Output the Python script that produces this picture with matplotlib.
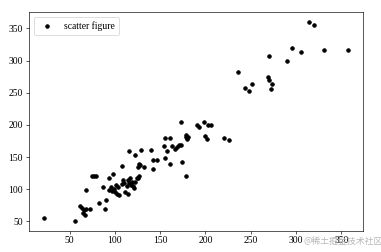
import matplotlib
matplotlib.use("Agg")
import matplotlib.pyplot as plt
import numpy as np

x = [21.6, 56, 62, 64, 65, 66, 67, 68, 68, 72, 75, 77, 79, 82, 87, 89, 90, 93,
     94, 96, 97, 98, 99, 100, 101, 102, 103, 104, 108, 108, 109, 110, 111, 113,
     114, 115, 115.5, 116, 117, 118, 119, 120, 121, 122, 122, 124, 126, 126,
     127, 127, 128, 129, 132, 140, 142, 142, 146.5, 154, 155, 155, 157.5,
     160.5, 161, 163, 166, 168.6, 171, 173, 173.5, 174, 178, 178, 179, 180,
     181, 191, 192.5, 198.4, 200, 201.7, 203, 206.5, 220.5, 226, 236, 244,
     248, 251.5, 269, 270, 270, 272, 273.6, 290, 296, 305, 314.4, 320, 331,
     357.5]
y = [56, 51, 74, 71, 63, 67, 60, 69, 99, 70, 121, 121, 121, 79, 103, 70, 84,
     118, 99, 104, 98, 123, 101, 96, 106, 93, 103, 91, 136, 108, 115, 110, 96,
     105, 93, 115, 159, 110, 118, 107, 112, 105, 102, 154, 111, 117, 118, 135,
     120, 140, 137, 161, 134, 161, 145, 131, 145, 167, 179, 148, 159, 140, 179,
     167, 163, 166, 168, 204, 169, 143, 120, 181, 185, 178, 181, 200, 197, 204,
     183, 178, 200, 200, 179, 177, 282, 257, 253, 263, 274, 270, 306.5, 256,
     263, 299, 319, 314, 359.5, 356, 316, 316]

plt.rcParams["font.family"] = ["Liberation Serif", "DejaVu Serif"]
plt.rcParams["font.size"] = 12

fig = plt.figure(figsize=(381 / 58, 252 / 58), dpi=58)
ax = fig.add_axes([0.0753, 0.0845, 0.8782, 0.8665])

ax.scatter(x, y, s=20, c="black", label="scatter figure")
ax.set_xticks(np.arange(50, 351, 50))
ax.set_yticks(np.arange(50, 351, 50))
ax.legend(loc="upper left")

# watermark
fig.text(303 / 381, 1 - 241 / 252, "@稀土掘金技术社区", fontsize=11,
         family=["Noto Sans CJK SC", "DejaVu Sans"], color="#b8b8b8",
         va="center", ha="left")

fig.savefig("out.png", dpi=58)
